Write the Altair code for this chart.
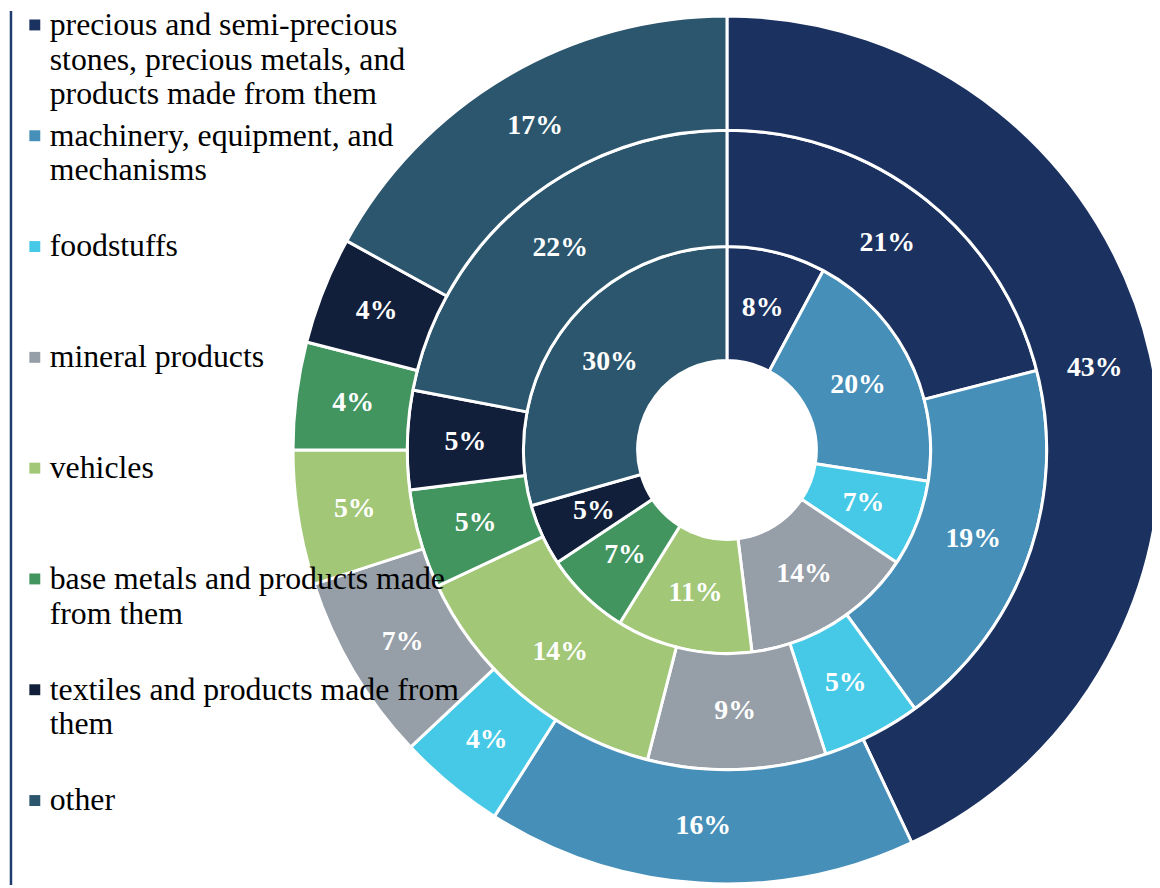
import altair as alt
import pandas as pd

categories = [
    "precious",
    "machinery",
    "foodstuffs",
    "mineral",
    "vehicles",
    "base metals",
    "textiles",
    "other",
]
legend_labels = [
    "precious and semi-precious\nstones, precious metals, and\nproducts made from them",
    "machinery, equipment, and\nmechanisms",
    "foodstuffs",
    "mineral products",
    "vehicles",
    "base metals and products made\nfrom them",
    "textiles and products made from\nthem",
    "other",
]
colors = ["#1B3160", "#468FB8", "#46C9E6", "#969EA8", "#A2C777", "#42955F", "#121F3A", "#2B566E"]

inner_values = [8, 20, 7, 14, 11, 7, 5, 30]
middle_values = [21, 19, 5, 9, 14, 5, 5, 22]
outer_values = [43, 16, 4, 7, 5, 4, 4, 17]

W, H = 1152, 880
CX, CY = 724, 442
rings = [(inner_values, 90, 205), (middle_values, 205, 322), (outer_values, 322, 437)]

color = alt.Color("category:N", scale=alt.Scale(domain=categories, range=colors), legend=None)

layers = []
for vals, r0, r1 in rings:
    df = pd.DataFrame({
        "category": categories,
        "idx": list(range(len(categories))),
        "value": vals,
        "label": [f"{v}%" for v in vals],
    })
    base = alt.Chart(df).encode(
        theta=alt.Theta("value:Q", stack="normalize"),
        order=alt.Order("idx:Q"),
        x=alt.value(CX),
        y=alt.value(CY),
    )
    arc = base.mark_arc(innerRadius=r0, outerRadius=r1, stroke="white", strokeWidth=3).encode(color=color)
    txt = base.mark_text(
        radius=(r0 + r1) / 2, font="Liberation Serif", fontSize=28, fontWeight="bold", color="white"
    ).encode(text="label:N")
    layers += [arc, txt]

leg_df = pd.DataFrame({"category": categories, "label": legend_labels})
yscale = alt.Scale(type="point", domain=categories, range=[24, 805], padding=0)
leg_text = alt.Chart(leg_df).mark_text(
    align="left", baseline="alphabetic", font="Liberation Serif", fontSize=32,
    lineHeight=35, lineBreak="\n", color="black",
).encode(x=alt.value(42), y=alt.Y("category:N", scale=yscale, axis=None), text="label:N")
leg_sq = alt.Chart(leg_df).mark_square(size=121, opacity=1, yOffset=-10).encode(
    x=alt.value(27), y=alt.Y("category:N", scale=yscale, axis=None), color=color
)

border = alt.Chart(pd.DataFrame({"a": [0]})).mark_rule(color="#1F3C6E", strokeWidth=2.5).encode(
    x=alt.value(3), y=alt.value(0), y2=alt.value(H)
)

chart = alt.layer(border, *layers, leg_sq, leg_text).properties(
    width=W, height=H, autosize=alt.AutoSizeParams(type="none"), padding=0
).configure_view(stroke=None)

chart.save("out.html", embed_options={"renderer": "svg", "actions": False})
